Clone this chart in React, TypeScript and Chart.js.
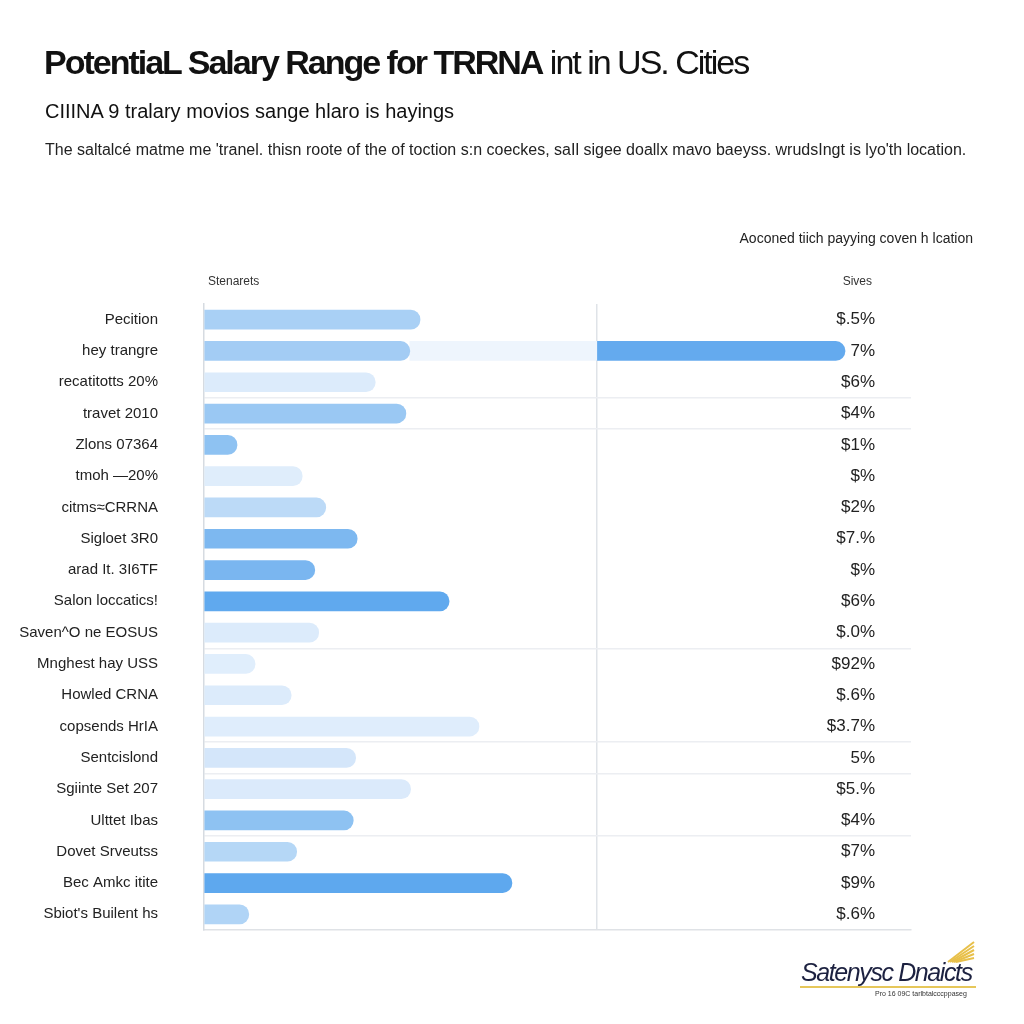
import React, { useEffect, useRef } from "react";
import { Chart, registerables } from "chart.js";

Chart.register(...registerables);

const categories = [
  "Pecition",
  "hey trangre",
  "recatitotts 20%",
  "travet 2010",
  "Zlons 07364",
  "tmoh \u201420%",
  "citms\u2248CRRNA",
  "Sigloet 3R0",
  "arad It. 3I6TF",
  "Salon loccatics!",
  "Saven^O ne EOSUS",
  "Mnghest hay USS",
  "Howled CRNA",
  "copsends HrIA",
  "Sentcislond",
  "Sgiinte Set 207",
  "Ulttet Ibas",
  "Dovet Srveutss",
  "Bec Amkc itite",
  "Sbiot's Builent hs",
];

const salaryValues = [27.5, 26.2, 21.8, 25.7, 4.2, 12.5, 15.5, 19.5, 14.1, 31.2, 14.6, 6.5, 11.1, 35.0, 19.3, 26.3, 19.0, 11.8, 39.2, 5.7];

const bandRanges: ([number, number] | null)[] = [null, [26.2, 50], null, null, null, null, null, null, null, null, null, null, null, null, null, null, null, null, null, null];
const accentRanges: ([number, number] | null)[] = [null, [50, 81.6], null, null, null, null, null, null, null, null, null, null, null, null, null, null, null, null, null, null];

const valueLabels = ["$.5%", "7%", "$6%", "$4%", "$1%", "$%", "$2%", "$7.%", "$%", "$6%", "$.0%", "$92%", "$.6%", "$3.7%", "5%", "$5.%", "$4%", "$7%", "$9%", "$.6%"];

const barColors = [
  "#a9d0f5", "#a3ccf4", "#dcebfb", "#9ac8f3", "#8ec2f2", "#dfedfb", "#bcdaf7", "#7db8f0", "#7ab6f0", "#60a9ee",
  "#dcebfb", "#e0eefc", "#dcebfb", "#dfedfc", "#d4e6fa", "#dbeafb", "#8ec2f2", "#b5d7f6", "#5ea8ee", "#b0d4f6",
];

const gridRows = [3, 4, 11, 14, 15, 17];

const valueLabelPlugin = {
  id: "valueLabels",
  afterDatasetsDraw(chart: any) {
    const { ctx } = chart;
    const yScale = chart.scales.y;
    ctx.save();
    ctx.font = "17px 'Liberation Sans', Arial, sans-serif";
    ctx.fillStyle = "#222";
    ctx.textAlign = "right";
    ctx.textBaseline = "middle";
    valueLabels.forEach((t, i) => {
      ctx.fillText(t, 875, yScale.getPixelForValue(i));
    });
    ctx.restore();
  },
};

export default function App() {
  const ref = useRef<HTMLCanvasElement | null>(null);

  useEffect(() => {
    if (!ref.current) return;
    const chart = new Chart(ref.current, {
      type: "bar",
      data: {
        labels: categories,
        datasets: [
          {
            label: "Salary",
            data: salaryValues,
            backgroundColor: barColors,
            borderRadius: 10,
            barThickness: 19,
            grouped: false,
          } as any,
          {
            label: "Band",
            data: bandRanges as any,
            backgroundColor: "#eef5fd",
            borderRadius: 0,
            barThickness: 19,
            grouped: false,
          } as any,
          {
            label: "Accent",
            data: accentRanges as any,
            backgroundColor: "#64aaee",
            borderRadius: 10,
            barThickness: 19,
            grouped: false,
          } as any,
        ],
      },
      options: {
        indexAxis: "y",
        animation: false,
        responsive: false,
        maintainAspectRatio: false,
        layout: { padding: { left: 0, right: 113, top: 304, bottom: 94 } },
        plugins: {
          legend: { display: false },
          tooltip: { enabled: false },
          title: { display: false },
        },
        scales: {
          x: {
            min: 0,
            max: 90,
            ticks: { display: false, stepSize: 50 },
            grid: {
              drawTicks: false,
              color: (c: any) => (c.tick && c.tick.value === 50 ? "#dfe3e8" : "rgba(0,0,0,0)"),
              lineWidth: 1.5,
            },
            border: { display: true, color: "#dfe2e6", width: 1.5 },
            afterFit: (s: any) => {
              s.height = 0;
            },
          },
          y: {
            ticks: {
              padding: 46,
              color: "#222",
              font: { family: "'Liberation Sans', Arial, sans-serif", size: 15 },
              autoSkip: false,
            },
            grid: {
              drawTicks: false,
              color: (c: any) => (gridRows.includes(c.index) ? "#eceef2" : "rgba(0,0,0,0)"),
              lineWidth: 1.5,
            },
            border: { display: true, color: "#d6dbe1", width: 1.5 },
            afterFit: (s: any) => {
              s.width = 204;
            },
          },
        },
      },
      plugins: [valueLabelPlugin],
    });
    return () => chart.destroy();
  }, []);

  const sans = "'Liberation Sans', Arial, sans-serif";

  return (
    <div style={{ position: "fixed", left: 0, top: 0, width: 1024, height: 1024, background: "#fff", overflow: "hidden", fontFamily: sans }}>
      <canvas ref={ref} width={1024} height={1024} style={{ position: "absolute", left: 0, top: 0, width: 1024, height: 1024 }} />
      <div style={{ position: "absolute", left: 44, top: 44, fontSize: 34, lineHeight: "36px", color: "#111", letterSpacing: "-2px", whiteSpace: "nowrap" }}>
        <span style={{ fontWeight: 700 }}>PotentiaL Salary Range for TRRNA</span> int in US. Cities
      </div>
      <div style={{ position: "absolute", left: 45, top: 100, fontSize: 20, lineHeight: "22px", color: "#111", letterSpacing: "0px", whiteSpace: "nowrap" }}>
        CIIINA 9 tralary movios sange hlaro is hayings
      </div>
      <div style={{ position: "absolute", left: 45, top: 141, fontSize: 16, lineHeight: "17px", color: "#222", letterSpacing: "0px", whiteSpace: "nowrap" }}>
        The saltalc&eacute; matme me 'tranel. thisn roote of the of toction s:n coeckes, saIl sigee doallx mavo baeyss. wrudsIngt is lyo'th location.
      </div>
      <div style={{ position: "absolute", right: 51, top: 231, fontSize: 14, lineHeight: "15px", color: "#222", letterSpacing: "0px", whiteSpace: "nowrap" }}>
        Aoconed tiich payying coven h lcation
      </div>
      <div style={{ position: "absolute", left: 208, top: 275, fontSize: 12, lineHeight: "13px", color: "#333", whiteSpace: "nowrap" }}>
        Stenarets
      </div>
      <div style={{ position: "absolute", right: 152, top: 275, fontSize: 12, lineHeight: "13px", color: "#333", whiteSpace: "nowrap" }}>
        Sives
      </div>
      <svg style={{ position: "absolute", left: 940, top: 936 }} width={40} height={30}>
        {[0, 1, 2, 3, 4].map((i) => (
          <line key={i} x1={8 + i * 2} y1={26} x2={34} y2={6 + i * 4} stroke="#e8c04a" strokeWidth={2} />
        ))}
      </svg>
      <div style={{ position: "absolute", left: 801, top: 959, fontSize: 25, lineHeight: "27px", color: "#1c2140", fontStyle: "italic", letterSpacing: "-1.4px", whiteSpace: "nowrap" }}>
        Satenysc Dnaicts
      </div>
      <div style={{ position: "absolute", left: 800, top: 986, width: 176, height: 2, background: "#e6c75a" }} />
      <div style={{ position: "absolute", left: 875, top: 990, fontSize: 7, lineHeight: "8px", color: "#333", whiteSpace: "nowrap" }}>
        Pro 16 09C tarlbtalcccppaseg
      </div>
    </div>
  );
}
